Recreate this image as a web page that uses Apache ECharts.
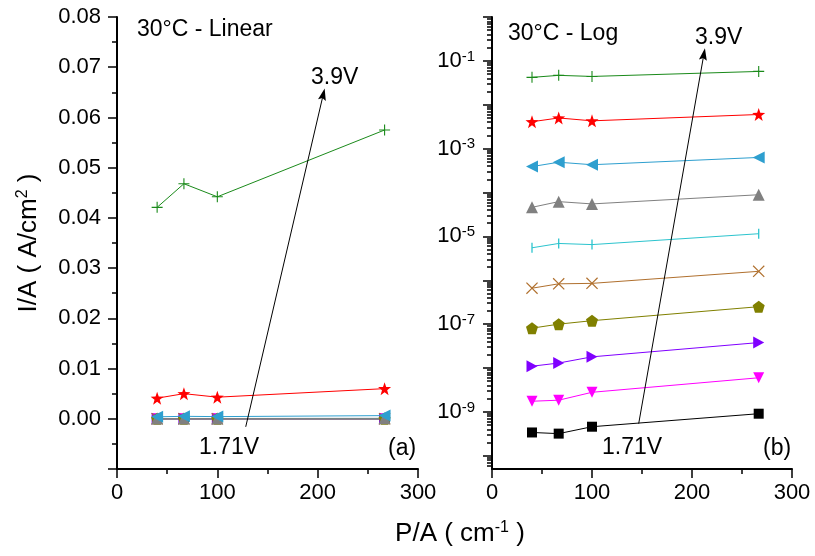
<!DOCTYPE html>
<html><head><meta charset="utf-8">
<script src="https://cdn.jsdelivr.net/npm/echarts@6/dist/echarts.min.js"></script>
<style>html,body{margin:0;padding:0;background:#fff}#c{width:815px;height:556px}</style>
</head><body><div id="c"></div>
<script>
// ---- data ----
const pa = [40, 66.7, 100, 266.7];              // P/A (cm^-1)
const v171 = [3.4e-10, 3.2e-10, 4.6e-10, 9.1e-10];  // 1.71V (black squares)
const vS2  = [1.75e-9, 1.85e-9, 2.8e-9, 6.0e-9];    // magenta
const vS3  = [1.1e-8, 1.3e-8, 1.8e-8, 3.8e-8];      // violet
const vS4  = [8.1e-8, 1.0e-7, 1.2e-7, 2.5e-7];      // olive
const vS5  = [6.6e-7, 8.3e-7, 8.5e-7, 1.6e-6];      // brown
const vS6  = [5.5e-6, 6.9e-6, 6.5e-6, 1.15e-5];     // cyan
const vS7  = [4.6e-5, 6.2e-5, 5.5e-5, 8.9e-5];      // gray
const vS8  = [3.9e-4, 4.9e-4, 4.3e-4, 6.3e-4];      // blue
const vS9  = [0.0041, 0.0050, 0.0043, 0.0060];      // red
const v39  = [0.0421, 0.0468, 0.0442, 0.0575];      // 3.9V (green)
const xTicks = [0, 100, 200, 300];
const logLabelTicks = [1e-9, 1e-7, 1e-5, 1e-3, 1e-1];
const logMajorTicks = [1e-10, 1e-9, 1e-8, 1e-7, 1e-6, 1e-5, 1e-4, 1e-3, 1e-2, 1e-1, 1];
// arrow annotation endpoints (data coords)
const arrowA = [[128.3, -0.0016], [205.6, 0.0646]];
const arrowB = [[146.7, 5.4e-10], [211.9, 0.142]];

// ---- styles ----
const FONT = '"Liberation Sans", Arial, sans-serif';
const P_PLUS = 'path://M4.5,0h1v4.5h4.5v1h-4.5v4.5h-1v-4.5h-4.5v-1h4.5Z';
const P_X = 'path://M0,0.7L0.7,0L5,4.3L9.3,0L10,0.7L5.7,5L10,9.3L9.3,10L5,5.7L0.7,10L0,9.3L4.3,5Z';
const P_STAR = 'path://M5,0L6.176,3.382L9.755,3.455L6.902,5.618L7.939,9.045L5,7L2.061,9.045L3.098,5.618L0.245,3.455L3.824,3.382Z';
const P_PENT = 'path://M5,0L9.755,3.455L7.939,9.045L2.061,9.045L0.245,3.455Z';
const P_RIGHT = 'path://M0,0L10,5L0,10Z';
const P_LEFT = 'path://M10,0L0,5L10,10Z';
const P_DOWN = 'path://M0,0L10,0L5,10Z';
const P_BAR = 'path://M0,0h1v10h-1Z';
const P_ARROW = 'path://M5,0L10,14L5,11.5L0,14Z';

const seriesDefs = [
  {name:'1.71V', vals:v171, color:'#000000', symbol:'rect', size:10},
  {name:'S2', vals:vS2, color:'#FF00FF', symbol:P_DOWN, size:11},
  {name:'S3', vals:vS3, color:'#8000FF', symbol:P_RIGHT, size:[11,12]},
  {name:'S4', vals:vS4, color:'#808000', symbol:P_PENT, size:12},
  {name:'S5', vals:vS5, color:'#B0702E', symbol:P_X, size:12},
  {name:'S6', vals:vS6, color:'#2CC4CE', symbol:P_BAR, size:[1.3,10]},
  {name:'S7', vals:vS7, color:'#808080', symbol:'triangle', size:12},
  {name:'S8', vals:vS8, color:'#2E9FCF', symbol:P_LEFT, size:[12,12]},
  {name:'S9', vals:vS9, color:'#FF0000', symbol:P_STAR, size:13},
  {name:'3.9V', vals:v39, color:'#1A8A1A', symbol:P_PLUS, size:11}
];

const minors = [];
for (let e = -11; e <= -1; e++) for (let k = 2; k <= 9; k++) {
  const v = k * Math.pow(10, e);
  if (v >= 5e-11 && v <= 1) minors.push(+v.toPrecision(3));
}

const axisLineStyle = {color:'#000', width:2};
const tickStyle = {color:'#000', width:1.5};
function xAxisFor(i){
  return {gridIndex:i, type:'value', min:0, max:300, interval:100,
    axisLine:{show:true, onZero:false, lineStyle:axisLineStyle},
    axisTick:{show:true, length:9, lineStyle:tickStyle},
    minorTick:{show:true, splitNumber:2, length:5, lineStyle:tickStyle},
    splitLine:{show:false}, minorSplitLine:{show:false},
    axisLabel:{fontSize:22, color:'#000', margin:13, fontFamily:FONT,
      formatter:v => xTicks.includes(Math.round(v)) ? String(Math.round(v)) : ''}};
}

const series = [];
seriesDefs.forEach(d => {
  [0,1].forEach(g => {
    series.push({type:'line', name:d.name, xAxisIndex:g, yAxisIndex:g,
      data: pa.map((x,i)=>[x, d.vals[i]]),
      symbol:d.symbol, symbolSize:d.size, showSymbol:true,
      lineStyle:{color:d.color, width:1}, itemStyle:{color:d.color},
      z: 3, animation:false, silent:true});
  });
});
// arrows via markLine
function arrowLine(g, pts){
  return {type:'line', xAxisIndex:g, yAxisIndex:g, data:[], silent:true, animation:false,
    markLine:{silent:true, animation:false, symbol:['none', P_ARROW], symbolSize:[8, 12],
      label:{show:false}, lineStyle:{color:'#000', width:1, type:'solid'},
      itemStyle:{color:'#000'},
      emphasis:{disabled:true},
      data:[[{coord:pts[0]},{coord:pts[1]}]]}};
}
series.push(arrowLine(0, arrowA));
series.push(arrowLine(1, arrowB));

function txt(x, y, t, size){
  return {type:'text', x:x, y:y, silent:true,
    style:{text:t, fontSize:size||23, fontFamily:FONT, fill:'#000',
      align:'left', verticalAlign:'middle', textAlign:'left', textVerticalAlign:'middle'}};
}

const option = {
  backgroundColor:'#fff',
  animation:false,
  grid:[
    {left:117, top:17, width:301, height:452},
    {left:492, top:17, width:300, height:452}
  ],
  xAxis:[xAxisFor(0), xAxisFor(1)],
  yAxis:[
    {gridIndex:0, type:'value', min:-0.01, max:0.08, interval:0.01,
      axisLine:{show:true, onZero:false, lineStyle:axisLineStyle},
      axisTick:{show:true, length:9, lineStyle:tickStyle},
      minorTick:{show:true, splitNumber:2, length:5, lineStyle:tickStyle},
      splitLine:{show:false}, minorSplitLine:{show:false},
      axisLabel:{fontSize:22, color:'#000', margin:16, fontFamily:FONT,
        formatter:v => v < -0.005 ? '' : v.toFixed(2)}},
    {gridIndex:1, type:'log', logBase:10, min:5e-11, max:1, position:'left',
      axisLine:{show:true, onZero:false, lineStyle:axisLineStyle},
      axisTick:{show:true, length:9, lineStyle:tickStyle, customValues:logMajorTicks},
      splitLine:{show:false},
      axisLabel:{color:'#000', margin:17, customValues:logLabelTicks,
        formatter:v => '{b|10}{s|' + Math.round(Math.log10(v)) + '}',
        rich:{b:{fontSize:22, fontFamily:FONT, color:'#000', lineHeight:24},
              s:{fontSize:15, fontFamily:FONT, color:'#000', verticalAlign:'top', lineHeight:15}}}},
    {gridIndex:1, type:'log', logBase:10, min:5e-11, max:1, position:'left',
      axisLine:{show:false},
      axisTick:{show:true, length:5, lineStyle:tickStyle, customValues:minors},
      splitLine:{show:false}, axisLabel:{show:false}}
  ],
  series: series,
  graphic:[
    txt(137, 30, '30°C - Linear'),
    txt(311, 78, '3.9V'),
    txt(199, 448, '1.71V'),
    txt(388, 449, '(a)'),
    txt(508, 33.5, '30°C - Log'),
    txt(695, 38, '3.9V'),
    txt(602, 448, '1.71V'),
    txt(763, 449, '(b)'),
    {type:'text', x:460, y:534, silent:true,
      style:{text:'{n|P/A ( cm}{s|-1}{n| )}', fill:'#000',
        align:'center', verticalAlign:'middle', textAlign:'center', textVerticalAlign:'middle',
        rich:{n:{fontSize:26, fontFamily:FONT, color:'#000', lineHeight:28},
              s:{fontSize:16, fontFamily:FONT, color:'#000', verticalAlign:'top', lineHeight:16}}}},
    {type:'text', x:29, y:243, rotation:Math.PI/2, silent:true,
      style:{text:'{n|I/A ( A/cm}{s|2}{n| )}', fill:'#000',
        align:'center', verticalAlign:'middle', textAlign:'center', textVerticalAlign:'middle',
        rich:{n:{fontSize:26, fontFamily:FONT, color:'#000', lineHeight:28},
              s:{fontSize:16, fontFamily:FONT, color:'#000', verticalAlign:'top', lineHeight:16}}}}
  ]
};
option.series.forEach(s => { if (s.xAxisIndex === 1) s.yAxisIndex = 1; });
const chart = echarts.init(document.getElementById('c'), null, {renderer:'canvas'});
chart.setOption(option);
</script></body></html>
